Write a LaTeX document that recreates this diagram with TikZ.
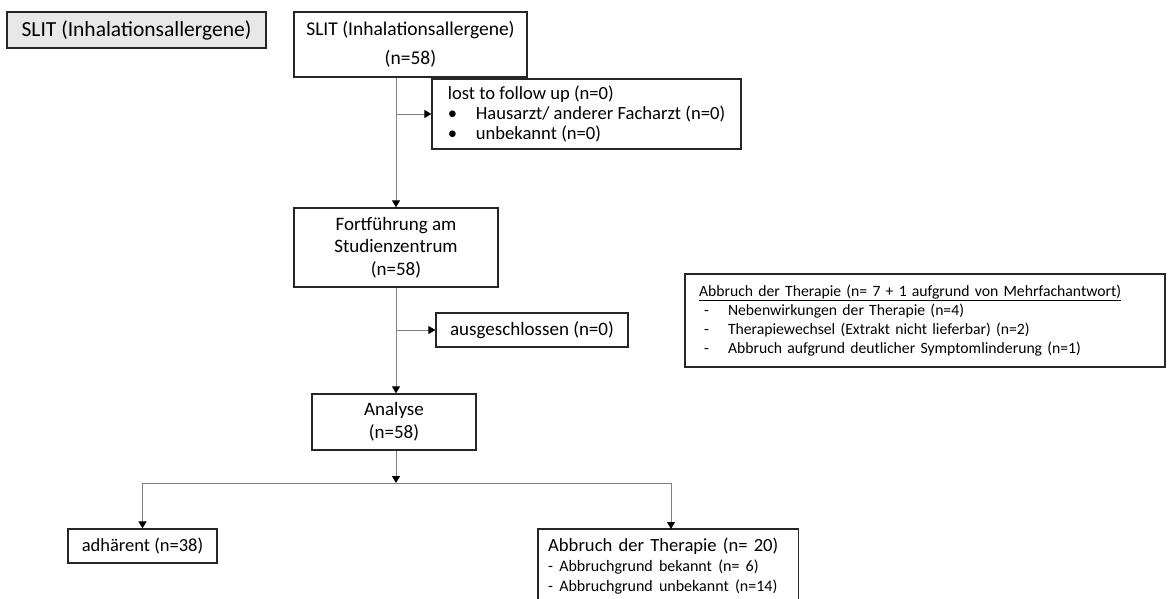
\documentclass[tikz,border=0pt]{standalone}
\usepackage{fontspec}
\setmainfont{Carlito}
\usetikzlibrary{arrows.meta,calc}
\begin{document}
\begin{tikzpicture}[x=1pt,y=-1pt,
  boxline/.style={draw=black!85, line width=1.3pt},
  box/.style={boxline, inner sep=0pt, align=center, font=\fontsize{19}{23}\selectfont},
  conn/.style={draw=black!50, line width=1pt},
  arr/.style={conn, -{Triangle[width=8pt,length=7pt,color=black]}}]
\clip (0,0) rectangle (1169,598);
\fill[white] (0,0) rectangle (1169,598);

\node[box, fill=gray!18, minimum width=259pt, minimum height=36pt,
      font=\fontsize{21.5}{26}\selectfont] (hdr) at (136.5,30) {SLIT (Inhalationsallergene)};

\node[box, minimum width=233pt, minimum height=65pt,
      font=\fontsize{19.5}{29}\selectfont] (top) at (410.5,44.5) {SLIT (Inhalationsallergene)\\(n=58)};

\node[box, align=left, minimum width=309pt, minimum height=70pt,
      font=\fontsize{18.6}{20}\selectfont] (lost) at (586.5,114)
  {lost to follow up (n=0)\\\makebox[28pt][l]{•}Hausarzt/ anderer Facharzt (n=0)\\\makebox[28pt][l]{•}unbekannt (n=0)};

\node[box, minimum width=204pt, minimum height=79pt,
      font=\fontsize{19}{22.5}\selectfont] (fort) at (396,247.5) {Fortführung am\\Studienzentrum\\(n=58)};

\node[box, minimum width=192pt, minimum height=34pt] (aus) at (532,330) {ausgeschlossen (n=0)};

\node[box, minimum width=164pt, minimum height=56pt] (ana) at (394,422) {Analyse\\(n=58)};

\node[box, minimum width=149pt, minimum height=34pt, font=\fontsize{18.5}{22}\selectfont] (adh) at (142.5,546) {adhärent (n=38)};

\node[anchor=north west, align=left, text width=240pt, inner xsep=10pt, inner ysep=9pt,
      font=\fontsize{18.6}{20}\selectfont] (abb) at (538,529)
  {Abbruch der Therapie (n= 20)\\\fontsize{16}{20}\selectfont - Abbruchgrund bekannt (n= 6)\\- Abbruchgrund unbekannt (n=14)};
\draw[boxline] (abb.north west) rectangle ($(abb.south east)+(0,30)$);

\node[box, align=left, text width=452pt, inner xsep=14pt, minimum height=93pt,
      font=\fontsize{15.7}{19}\selectfont] (why) at (925,320.5)
  {\underline{Abbruch der Therapie (n= 7 + 1 aufgrund von Mehrfachantwort)}\\
   \makebox[29pt][l]{\hspace{5pt}-}Nebenwirkungen der Therapie (n=4)\\
   \makebox[29pt][l]{\hspace{5pt}-}Therapiewechsel (Extrakt nicht lieferbar) (n=2)\\
   \makebox[29pt][l]{\hspace{5pt}-}Abbruch aufgrund deutlicher Symptomlinderung (n=1)};

\coordinate (split) at (fort.south |- 0,483);
\coordinate (ldrop) at (adh.north |- split);
\coordinate (rdrop) at (671,483);

\draw[arr] (top.south -| fort.north) -- (fort.north);
\draw[arr] (fort.north |- lost.west) -- (lost.west);
\draw[arr] (fort.south) -- (fort.south |- ana.north);
\draw[arr] (fort.south |- aus.west) -- (aus.west);
\draw[arr] (fort.south |- ana.south) -- (split);
\draw[conn] (ldrop) -- (rdrop);
\draw[arr] (ldrop) -- (adh.north);
\draw[arr] (rdrop) -- (rdrop |- abb.north);
\end{tikzpicture}
\end{document}
